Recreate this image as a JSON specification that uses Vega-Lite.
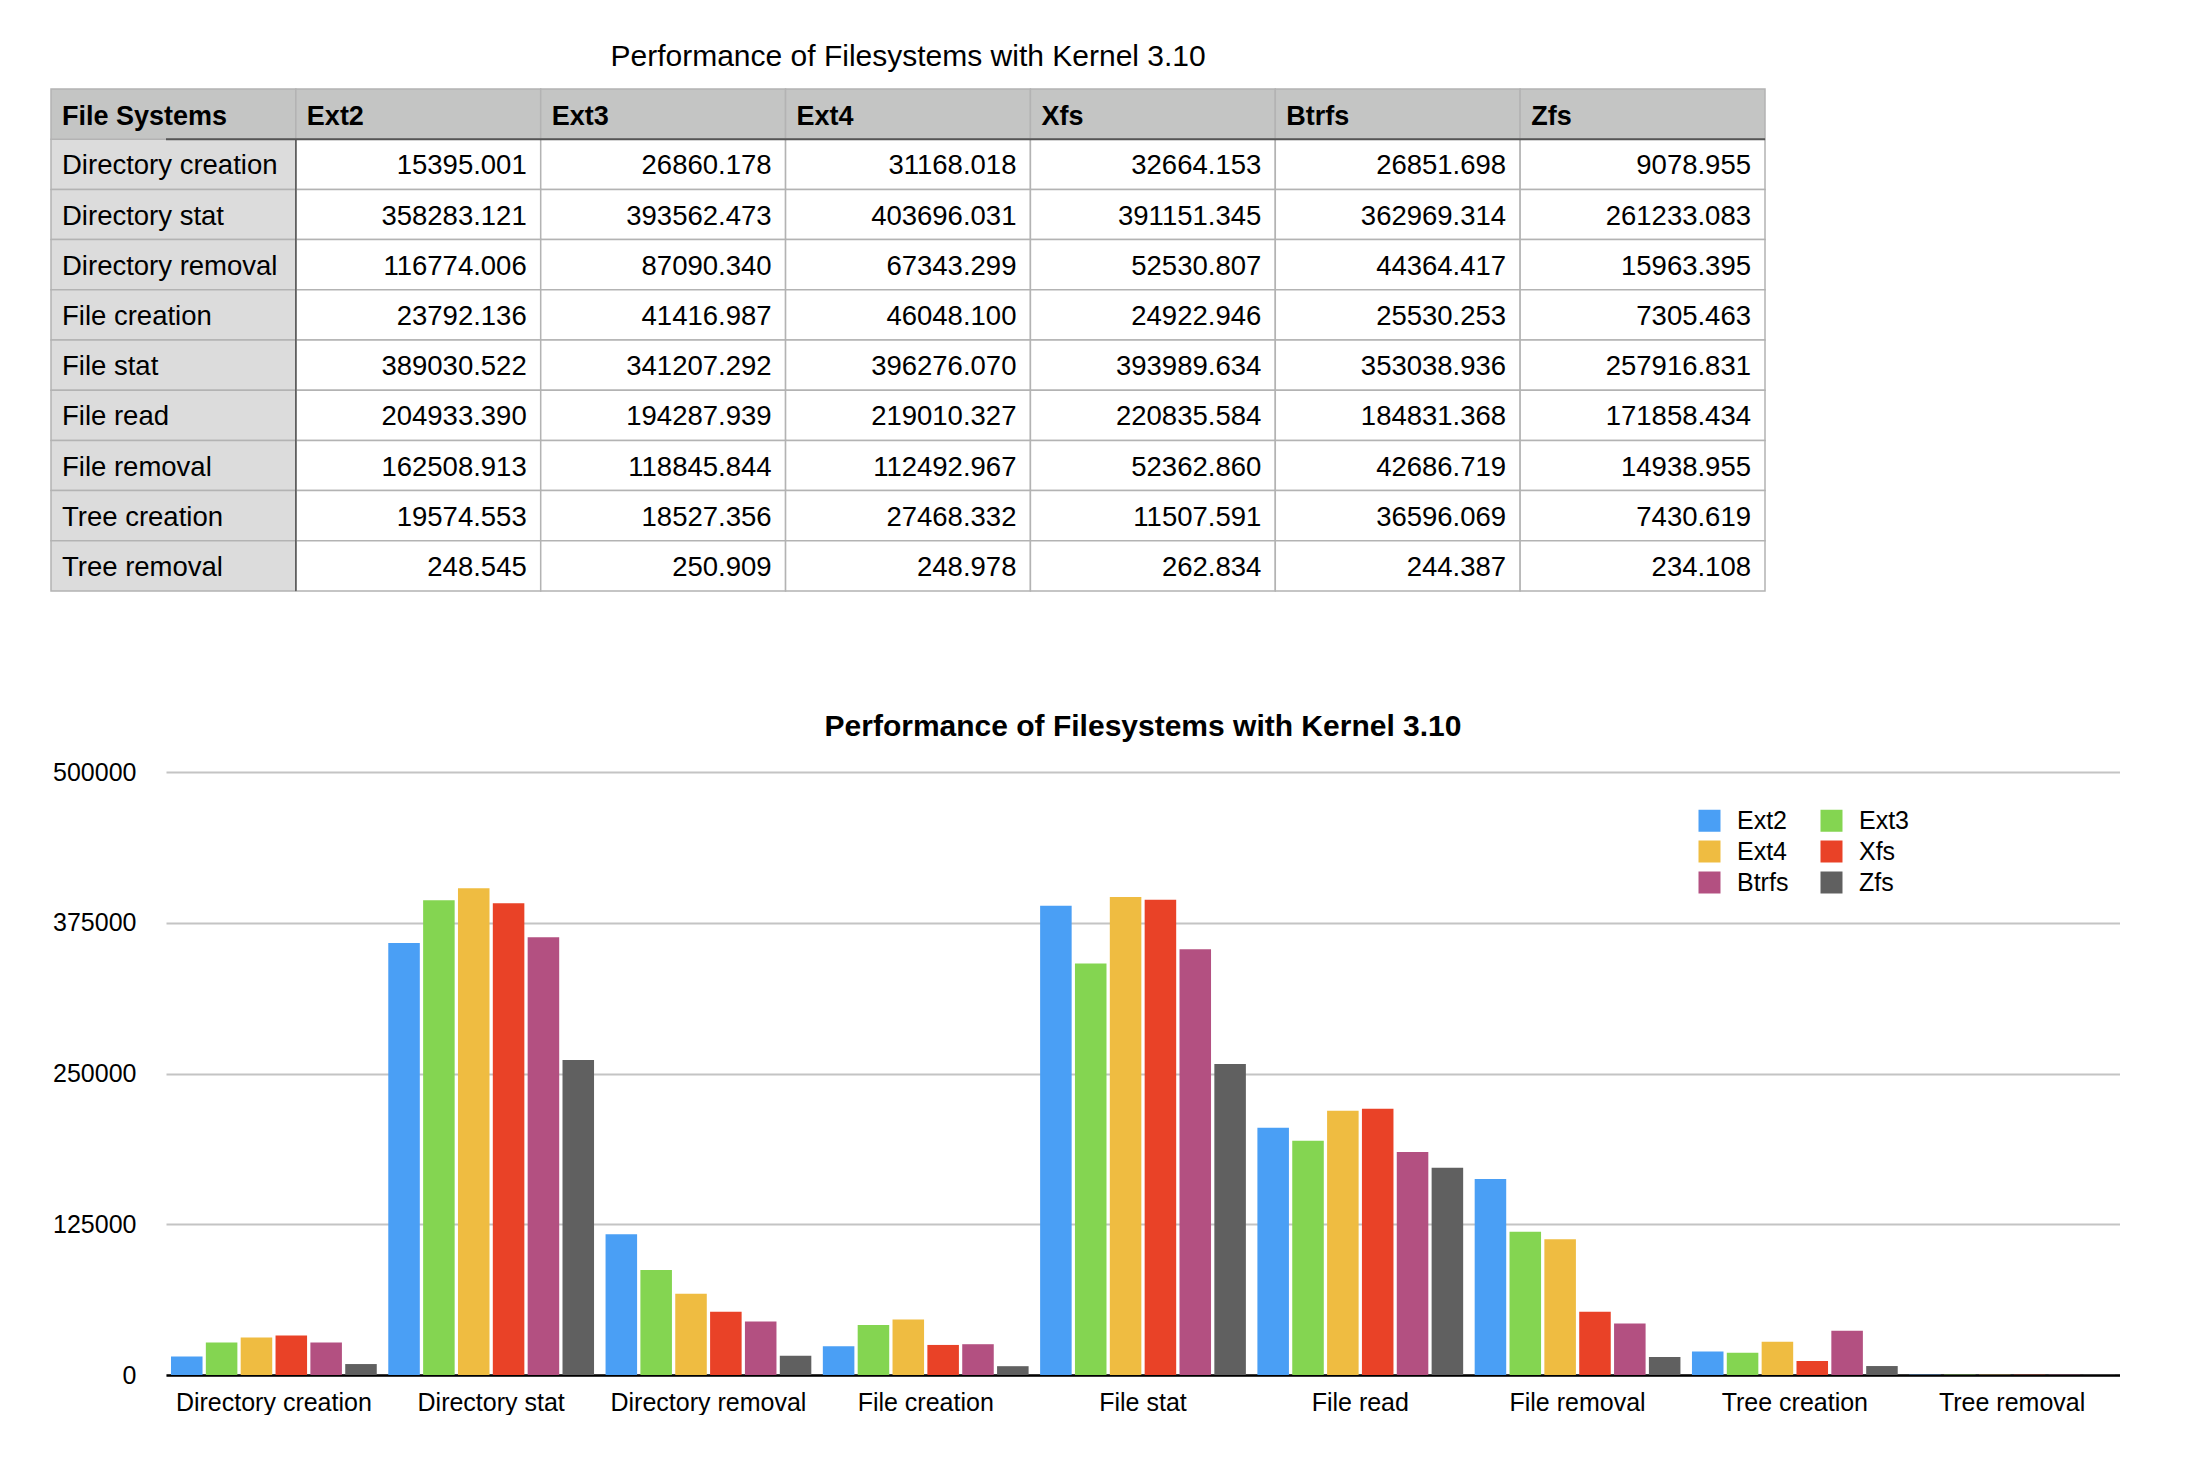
{
  "$schema": "https://vega.github.io/schema/vega-lite/v6.json",
  "padding": {"left": 50, "top": 42, "right": 0, "bottom": 0},
  "background": "#ffffff",
  "config": {"font": "Liberation Sans", "view": {"stroke": null}},
  "datasets": {
    "perf": [
      {"op": "Directory creation", "fs": "Ext2", "value": 15395.001},
      {"op": "Directory creation", "fs": "Ext3", "value": 26860.178},
      {"op": "Directory creation", "fs": "Ext4", "value": 31168.018},
      {"op": "Directory creation", "fs": "Xfs", "value": 32664.153},
      {"op": "Directory creation", "fs": "Btrfs", "value": 26851.698},
      {"op": "Directory creation", "fs": "Zfs", "value": 9078.955},
      {"op": "Directory stat", "fs": "Ext2", "value": 358283.121},
      {"op": "Directory stat", "fs": "Ext3", "value": 393562.473},
      {"op": "Directory stat", "fs": "Ext4", "value": 403696.031},
      {"op": "Directory stat", "fs": "Xfs", "value": 391151.345},
      {"op": "Directory stat", "fs": "Btrfs", "value": 362969.314},
      {"op": "Directory stat", "fs": "Zfs", "value": 261233.083},
      {"op": "Directory removal", "fs": "Ext2", "value": 116774.006},
      {"op": "Directory removal", "fs": "Ext3", "value": 87090.340},
      {"op": "Directory removal", "fs": "Ext4", "value": 67343.299},
      {"op": "Directory removal", "fs": "Xfs", "value": 52530.807},
      {"op": "Directory removal", "fs": "Btrfs", "value": 44364.417},
      {"op": "Directory removal", "fs": "Zfs", "value": 15963.395},
      {"op": "File creation", "fs": "Ext2", "value": 23792.136},
      {"op": "File creation", "fs": "Ext3", "value": 41416.987},
      {"op": "File creation", "fs": "Ext4", "value": 46048.100},
      {"op": "File creation", "fs": "Xfs", "value": 24922.946},
      {"op": "File creation", "fs": "Btrfs", "value": 25530.253},
      {"op": "File creation", "fs": "Zfs", "value": 7305.463},
      {"op": "File stat", "fs": "Ext2", "value": 389030.522},
      {"op": "File stat", "fs": "Ext3", "value": 341207.292},
      {"op": "File stat", "fs": "Ext4", "value": 396276.070},
      {"op": "File stat", "fs": "Xfs", "value": 393989.634},
      {"op": "File stat", "fs": "Btrfs", "value": 353038.936},
      {"op": "File stat", "fs": "Zfs", "value": 257916.831},
      {"op": "File read", "fs": "Ext2", "value": 204933.390},
      {"op": "File read", "fs": "Ext3", "value": 194287.939},
      {"op": "File read", "fs": "Ext4", "value": 219010.327},
      {"op": "File read", "fs": "Xfs", "value": 220835.584},
      {"op": "File read", "fs": "Btrfs", "value": 184831.368},
      {"op": "File read", "fs": "Zfs", "value": 171858.434},
      {"op": "File removal", "fs": "Ext2", "value": 162508.913},
      {"op": "File removal", "fs": "Ext3", "value": 118845.844},
      {"op": "File removal", "fs": "Ext4", "value": 112492.967},
      {"op": "File removal", "fs": "Xfs", "value": 52362.860},
      {"op": "File removal", "fs": "Btrfs", "value": 42686.719},
      {"op": "File removal", "fs": "Zfs", "value": 14938.955},
      {"op": "Tree creation", "fs": "Ext2", "value": 19574.553},
      {"op": "Tree creation", "fs": "Ext3", "value": 18527.356},
      {"op": "Tree creation", "fs": "Ext4", "value": 27468.332},
      {"op": "Tree creation", "fs": "Xfs", "value": 11507.591},
      {"op": "Tree creation", "fs": "Btrfs", "value": 36596.069},
      {"op": "Tree creation", "fs": "Zfs", "value": 7430.619},
      {"op": "Tree removal", "fs": "Ext2", "value": 248.545},
      {"op": "Tree removal", "fs": "Ext3", "value": 250.909},
      {"op": "Tree removal", "fs": "Ext4", "value": 248.978},
      {"op": "Tree removal", "fs": "Xfs", "value": 262.834},
      {"op": "Tree removal", "fs": "Btrfs", "value": 244.387},
      {"op": "Tree removal", "fs": "Zfs", "value": 234.108}
    ],
    "cols": [
      {"col": "File Systems"}, {"col": "Ext2"}, {"col": "Ext3"}, {"col": "Ext4"},
      {"col": "Xfs"}, {"col": "Btrfs"}, {"col": "Zfs"}
    ]
  },
  "resolve": {"legend": {"color": "independent"}},
  "concat": [
    {
      "width": 1599,
      "height": 502,
      "title": {"text": "Performance of Filesystems with Kernel 3.10", "fontSize": 30, "fontWeight": "normal", "baseline": "alphabetic", "offset": -8, "anchor": "middle", "frame": "bounds", "color": "#000000"},
      "layer": [
        {
          "data": {"name": "perf"},
          "mark": {"type": "rect", "fill": "#ffffff", "stroke": "#b3b3b3", "strokeWidth": 1.5},
          "encoding": {
            "x": {"field": "fs", "type": "nominal", "scale": {"domain": ["File Systems", "Ext2", "Ext3", "Ext4", "Xfs", "Btrfs", "Zfs"], "range": [-115, 1599], "paddingInner": 0, "paddingOuter": 0}, "axis": null},
            "y": {"field": "op", "type": "nominal", "scale": {"domain": ["header", "Directory creation", "Directory stat", "Directory removal", "File creation", "File stat", "File read", "File removal", "Tree creation", "Tree removal"], "paddingInner": 0, "paddingOuter": 0}, "axis": null}
          }
        },
        {
          "data": {"name": "perf"},
          "transform": [{"filter": "datum.fs === 'Ext2'"}],
          "mark": {"type": "rect", "fill": "#dcdcdc", "stroke": "#b3b3b3", "strokeWidth": 1.5},
          "encoding": {
            "x": {"datum": "File Systems", "type": "nominal"},
            "y": {"field": "op", "type": "nominal"}
          }
        },
        {
          "data": {"values": [{}]},
          "mark": {"type": "rule", "color": "#555555", "strokeWidth": 1.5},
          "encoding": {"x": {"datum": "Ext2", "type": "nominal", "bandPosition": 0}}
        },
        {
          "data": {"name": "cols"},
          "mark": {"type": "rect", "fill": "#c4c5c4", "stroke": "#b3b3b3", "strokeWidth": 1.5},
          "encoding": {
            "x": {"field": "col", "type": "nominal"},
            "y": {"datum": "header", "type": "nominal"}
          }
        },
        {
          "data": {"values": [{}]},
          "mark": {"type": "rule", "color": "#555555", "strokeWidth": 2},
          "encoding": {"y": {"datum": "Directory creation", "type": "nominal", "bandPosition": 0}}
        },
        {
          "data": {"name": "cols"},
          "mark": {"type": "text", "align": "left", "baseline": "middle", "dx": 11, "dy": 3, "fontSize": 27, "fontWeight": "bold", "color": "#000000"},
          "encoding": {
            "x": {"field": "col", "type": "nominal", "bandPosition": 0},
            "y": {"datum": "header", "type": "nominal"},
            "text": {"field": "col"}
          }
        },
        {
          "data": {"name": "perf"},
          "transform": [{"filter": "datum.fs === 'Ext2'"}],
          "mark": {"type": "text", "align": "left", "baseline": "middle", "dx": 11, "dy": 2, "fontSize": 27.5, "color": "#000000"},
          "encoding": {
            "x": {"datum": "File Systems", "type": "nominal", "bandPosition": 0},
            "y": {"field": "op", "type": "nominal"},
            "text": {"field": "op"}
          }
        },
        {
          "data": {"name": "perf"},
          "mark": {"type": "text", "align": "right", "baseline": "middle", "dx": -14, "dy": 2, "fontSize": 27.5, "color": "#000000"},
          "encoding": {
            "x": {"field": "fs", "type": "nominal", "bandPosition": 1},
            "y": {"field": "op", "type": "nominal"},
            "text": {"field": "value", "format": ".3f"}
          }
        }
      ]
    },
    {
      "width": 1954,
      "height": 603,
      "data": {"name": "perf"},
      "title": {"text": "Performance of Filesystems with Kernel 3.10", "fontSize": 30, "fontWeight": "bold", "baseline": "alphabetic", "offset": -6, "anchor": "middle", "color": "#000000"},
      "mark": {"type": "bar"},
      "encoding": {
        "x": {
          "field": "op", "type": "nominal",
          "sort": ["Directory creation", "Directory stat", "Directory removal", "File creation", "File stat", "File read", "File removal", "Tree creation", "Tree removal"],
          "scale": {"paddingInner": 0.053, "paddingOuter": 0.023},
          "axis": {"title": null, "labelAngle": 0, "ticks": false, "domainColor": "#000000", "domainWidth": 2.5, "labelFontSize": 25, "labelPadding": 15, "labelColor": "#000000", "labelLimit": 0}
        },
        "xOffset": {
          "field": "fs", "type": "nominal",
          "sort": ["Ext2", "Ext3", "Ext4", "Xfs", "Btrfs", "Zfs"],
          "scale": {"paddingInner": 0.095, "paddingOuter": 0}
        },
        "y": {
          "field": "value", "type": "quantitative",
          "scale": {"domain": [0, 500000], "nice": false},
          "axis": {"title": null, "values": [0, 125000, 250000, 375000, 500000], "format": "d", "domain": false, "ticks": false, "labelFontSize": 25, "labelPadding": 30, "labelColor": "#000000", "gridColor": "#c4c4c4", "gridWidth": 2}
        },
        "color": {
          "field": "fs", "type": "nominal",
          "sort": ["Ext2", "Ext3", "Ext4", "Xfs", "Btrfs", "Zfs"],
          "scale": {"domain": ["Ext2", "Ext3", "Ext4", "Xfs", "Btrfs", "Zfs"], "range": ["#4a9ff5", "#84d551", "#efbc41", "#e94227", "#b35081", "#606060"]},
          "legend": {
            "title": null, "orient": "none", "legendX": 1531, "legendY": 36,
            "direction": "horizontal",
            "columns": 2, "symbolType": "square", "symbolSize": 484, "symbolStrokeWidth": 0,
            "labelFontSize": 25, "labelColor": "#000000", "labelOffset": 15,
            "columnPadding": 30, "rowPadding": 5
          }
        }
      }
    }
  ],
  "columns": 1,
  "align": "none",
  "spacing": 120
}
